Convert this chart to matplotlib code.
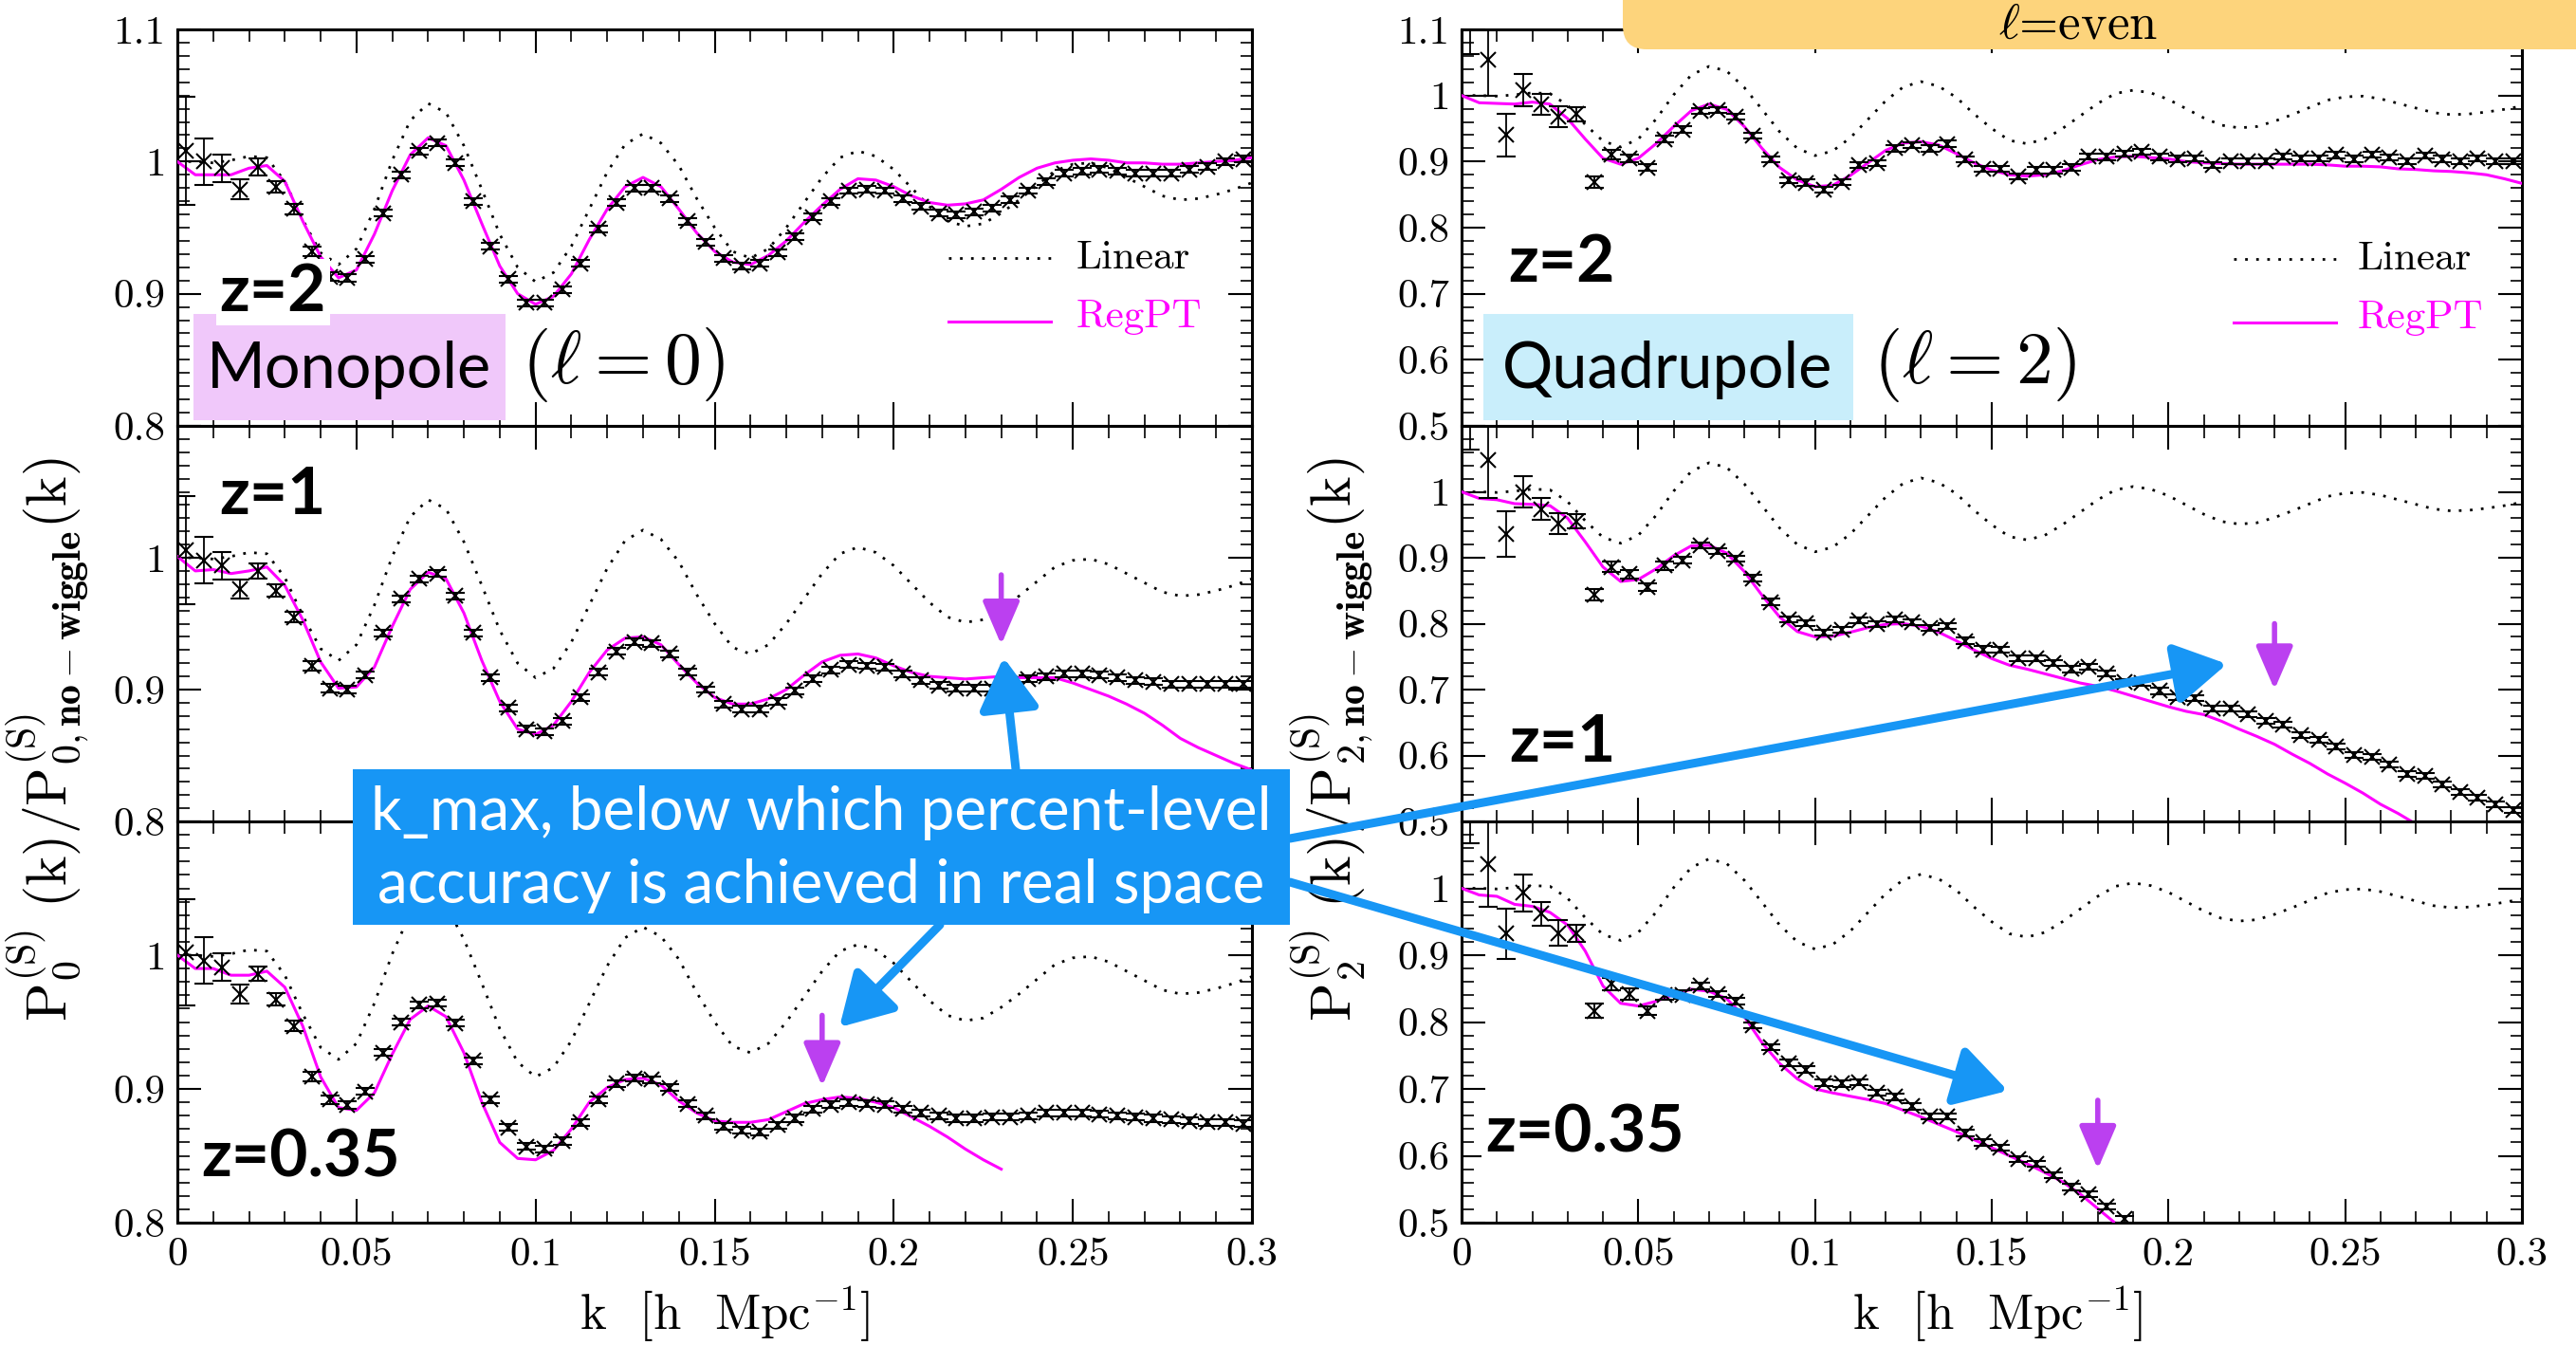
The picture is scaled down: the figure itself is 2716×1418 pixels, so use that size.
import numpy as np
import matplotlib.pyplot as plt
from matplotlib.patches import Rectangle, FancyBboxPatch, FancyArrowPatch
from matplotlib.ticker import MultipleLocator

plt.rcParams['mathtext.fontset'] = 'cm'
plt.rcParams['axes.formatter.use_mathtext'] = True

# theory curves are read every 0.005 in k, simulation bins are 0.005 wide
k_curve = np.linspace(0.0, 0.3, 61)
k_data = np.linspace(0.0025, 0.2975, 60)

# linear theory (same for every panel)
linear = [1.000, 1.000, 0.999, 1.001, 1.004, 1.003, 0.985, 0.956, 0.931, 0.922,
          0.934, 0.964, 1.001, 1.031, 1.044, 1.037, 1.012, 0.979, 0.945, 0.920,
          0.909, 0.916, 0.936, 0.964, 0.992, 1.013, 1.021, 1.014, 0.997, 0.972,
          0.950, 0.932, 0.927, 0.934, 0.950, 0.969, 0.988, 1.003, 1.008, 1.004,
          0.994, 0.980, 0.966, 0.955, 0.951, 0.953, 0.961, 0.971, 0.982, 0.993,
          0.998, 0.999, 0.995, 0.988, 0.981, 0.974, 0.971, 0.972, 0.975, 0.979,
          0.984]

# RegPT predictions
regpt_mono_z2 = [1.000, 0.990, 0.990, 0.990, 0.995, 0.997, 0.985, 0.955, 0.928, 0.912,
                 0.918, 0.945, 0.978, 1.005, 1.018, 1.012, 0.986, 0.953, 0.921, 0.900,
                 0.892, 0.898, 0.915, 0.941, 0.964, 0.981, 0.988, 0.981, 0.964, 0.946,
                 0.932, 0.924, 0.922, 0.929, 0.940, 0.954, 0.967, 0.979, 0.987, 0.986,
                 0.981, 0.974, 0.969, 0.967, 0.968, 0.971, 0.979, 0.988, 0.995, 0.999,
                 1.001, 1.002, 1.001, 0.999, 0.999, 0.998, 0.998, 0.999, 1.000, 1.001,
                 1.003]
regpt_mono_z1 = [1.001, 0.990, 0.991, 0.988, 0.990, 0.993, 0.979, 0.953, 0.921, 0.901,
                 0.902, 0.917, 0.948, 0.976, 0.989, 0.984, 0.958, 0.922, 0.891, 0.870,
                 0.866, 0.873, 0.891, 0.913, 0.930, 0.939, 0.940, 0.934, 0.919, 0.905,
                 0.894, 0.889, 0.889, 0.893, 0.900, 0.911, 0.921, 0.926, 0.927, 0.924,
                 0.918, 0.913, 0.910, 0.909, 0.908, 0.909, 0.910, 0.909, 0.909, 0.909,
                 0.905, 0.900, 0.895, 0.889, 0.882, 0.873, 0.863, 0.856, 0.850, 0.844,
                 0.839]
regpt_mono_z035 = [1.000, 0.990, 0.990, 0.985, 0.985, 0.988, 0.976, 0.947, 0.909, 0.886,
                   0.884, 0.897, 0.926, 0.952, 0.962, 0.954, 0.927, 0.890, 0.860, 0.848,
                   0.847, 0.854, 0.870, 0.890, 0.901, 0.907, 0.908, 0.903, 0.891, 0.882,
                   0.876, 0.875, 0.875, 0.877, 0.883, 0.889, 0.892, 0.894, 0.893, 0.890,
                   0.886, 0.879, 0.872, 0.864, 0.855, 0.847, 0.840]
regpt_quad_z2 = [1.000, 0.989, 0.988, 0.987, 0.990, 0.987, 0.965, 0.934, 0.905, 0.896,
                 0.905, 0.927, 0.953, 0.977, 0.987, 0.979, 0.953, 0.920, 0.891, 0.872,
                 0.862, 0.864, 0.879, 0.898, 0.917, 0.928, 0.930, 0.925, 0.912, 0.898,
                 0.887, 0.880, 0.878, 0.880, 0.886, 0.895, 0.903, 0.907, 0.908, 0.906,
                 0.904, 0.900, 0.898, 0.897, 0.896, 0.896, 0.896, 0.896, 0.896, 0.895,
                 0.893, 0.893, 0.892, 0.889, 0.888, 0.886, 0.885, 0.883, 0.880, 0.874,
                 0.867]
regpt_quad_z1 = [1.000, 0.990, 0.988, 0.982, 0.981, 0.979, 0.960, 0.924, 0.886, 0.864,
                 0.867, 0.883, 0.903, 0.918, 0.919, 0.907, 0.879, 0.843, 0.810, 0.788,
                 0.780, 0.781, 0.787, 0.794, 0.799, 0.800, 0.796, 0.787, 0.774, 0.760,
                 0.747, 0.737, 0.731, 0.724, 0.717, 0.710, 0.705, 0.698, 0.690, 0.682,
                 0.674, 0.667, 0.662, 0.652, 0.640, 0.629, 0.617, 0.602, 0.588, 0.572,
                 0.558, 0.543, 0.526, 0.512, 0.496]
regpt_quad_z035 = [1.000, 0.990, 0.988, 0.976, 0.973, 0.964, 0.945, 0.906, 0.854, 0.828,
                   0.824, 0.831, 0.841, 0.849, 0.846, 0.835, 0.808, 0.769, 0.738, 0.715,
                   0.700, 0.694, 0.689, 0.684, 0.678, 0.668, 0.658, 0.647, 0.636, 0.624,
                   0.612, 0.600, 0.588, 0.575, 0.561, 0.543, 0.521, 0.499]

# N-body measurements
data_mono_z2 = [1.008, 1.000, 0.995, 0.979, 0.996, 0.981, 0.964, 0.932, 0.913, 0.912,
                0.926, 0.961, 0.990, 1.008, 1.014, 0.999, 0.970, 0.936, 0.911, 0.893,
                0.893, 0.903, 0.923, 0.949, 0.969, 0.980, 0.980, 0.972, 0.955, 0.939,
                0.927, 0.921, 0.923, 0.931, 0.943, 0.958, 0.970, 0.978, 0.979, 0.978,
                0.972, 0.966, 0.961, 0.960, 0.962, 0.965, 0.971, 0.978, 0.985, 0.991,
                0.993, 0.994, 0.993, 0.991, 0.991, 0.991, 0.994, 0.996, 1.000, 1.002]
data_mono_z1 = [1.006, 0.998, 0.994, 0.976, 0.990, 0.975, 0.955, 0.918, 0.901, 0.900,
                0.911, 0.943, 0.969, 0.984, 0.988, 0.971, 0.943, 0.909, 0.886, 0.870,
                0.868, 0.876, 0.894, 0.913, 0.929, 0.936, 0.935, 0.927, 0.913, 0.900,
                0.889, 0.885, 0.885, 0.891, 0.899, 0.908, 0.915, 0.919, 0.918, 0.917,
                0.912, 0.907, 0.903, 0.901, 0.901, 0.901, 0.904, 0.908, 0.910, 0.912,
                0.912, 0.911, 0.909, 0.907, 0.906, 0.904, 0.904, 0.904, 0.904, 0.904]
data_mono_z035 = [1.002, 0.996, 0.991, 0.971, 0.986, 0.967, 0.947, 0.909, 0.892, 0.888,
                  0.898, 0.927, 0.950, 0.963, 0.964, 0.949, 0.921, 0.892, 0.871, 0.857,
                  0.855, 0.861, 0.875, 0.892, 0.904, 0.908, 0.907, 0.901, 0.889, 0.880,
                  0.872, 0.869, 0.868, 0.873, 0.878, 0.885, 0.888, 0.890, 0.889, 0.888,
                  0.885, 0.882, 0.880, 0.878, 0.878, 0.879, 0.879, 0.880, 0.882, 0.882,
                  0.882, 0.881, 0.880, 0.879, 0.878, 0.877, 0.876, 0.875, 0.875, 0.874]
data_quad_z2 = [1.160, 1.054, 0.940, 1.008, 0.987, 0.968, 0.972, 0.869, 0.911, 0.905,
                0.891, 0.934, 0.948, 0.977, 0.978, 0.968, 0.939, 0.903, 0.872, 0.868,
                0.857, 0.869, 0.895, 0.898, 0.920, 0.925, 0.920, 0.927, 0.903, 0.889,
                0.889, 0.877, 0.887, 0.887, 0.891, 0.908, 0.907, 0.912, 0.915, 0.907,
                0.904, 0.905, 0.895, 0.901, 0.901, 0.900, 0.908, 0.905, 0.905, 0.910,
                0.904, 0.911, 0.906, 0.900, 0.909, 0.904, 0.900, 0.905, 0.900, 0.900]
data_quad_z1 = [1.150, 1.048, 0.936, 1.000, 0.974, 0.952, 0.955, 0.844, 0.886, 0.875,
                0.855, 0.888, 0.896, 0.919, 0.910, 0.899, 0.869, 0.833, 0.807, 0.801,
                0.786, 0.791, 0.805, 0.799, 0.807, 0.802, 0.793, 0.796, 0.774, 0.761,
                0.760, 0.748, 0.748, 0.740, 0.731, 0.734, 0.724, 0.712, 0.710, 0.698,
                0.688, 0.687, 0.671, 0.671, 0.663, 0.652, 0.647, 0.631, 0.624, 0.614,
                0.601, 0.598, 0.586, 0.572, 0.569, 0.556, 0.545, 0.536, 0.526, 0.517]
data_quad_z035 = [1.150, 1.036, 0.932, 0.993, 0.962, 0.933, 0.933, 0.817, 0.857, 0.842,
                  0.817, 0.841, 0.841, 0.854, 0.842, 0.831, 0.795, 0.762, 0.739, 0.729,
                  0.709, 0.708, 0.710, 0.694, 0.688, 0.674, 0.659, 0.659, 0.634, 0.620,
                  0.612, 0.595, 0.588, 0.571, 0.553, 0.543, 0.524, 0.505]

# error bars: large at low k, roughly constant afterwards
err_mono_z2 = [0.041, 0.0176, 0.0104, 0.0074, 0.0066, 0.0045, 0.004, 0.0035, 0.003, 0.003] + [0.0025] * 50
err_mono_z1 = [0.041, 0.0176, 0.0104, 0.0072, 0.006, 0.0045, 0.004, 0.0035, 0.003, 0.003] + [0.0025] * 50
err_mono_z035 = [0.0395, 0.0175, 0.0104, 0.007, 0.0055, 0.0045, 0.004, 0.0035, 0.003, 0.003] + [0.0025] * 50
err_quad_z2 = [0.098, 0.055, 0.032, 0.024, 0.016, 0.0155, 0.011, 0.008, 0.007, 0.006,
               0.005, 0.005, 0.005, 0.0045] + [0.0045] * 46
err_quad_z1 = [0.086, 0.058, 0.034, 0.024, 0.016, 0.016, 0.011, 0.009, 0.008, 0.007,
               0.006, 0.006, 0.005, 0.0045] + [0.0045] * 46
err_quad_z035 = [0.083, 0.064, 0.038, 0.028, 0.018, 0.019, 0.013, 0.010, 0.009, 0.008,
                 0.007, 0.007, 0.006, 0.005] + [0.0045] * 24

# k_max marks (purple arrows)
kmax_z1 = 0.23
kmax_z035 = 0.18

W, H = 2716, 1418
fig = plt.figure(figsize=(W / 100, H / 100), dpi=100)

MAGENTA = '#ff00ff'
BLUE = '#1796f5'
PURPLE = '#bb40f0'
TICKFONT = dict(fontfamily='cmr10', fontsize=31)


def px_axes(x, y, w, h):
    return fig.add_axes([x / W, 1 - (y + h) / H, w / W, h / H])


def fpx(x, y):
    return (x / W, 1 - y / H)


cols = [(187, 1133), (1541, 1118)]
rows = [(31, 418), (449, 417), (866, 423)]

panels = [
    (0, 0, data_mono_z2, err_mono_z2, regpt_mono_z2, 'z=2', (0.089, 0.337)),
    (0, 1, data_mono_z1, err_mono_z1, regpt_mono_z1, 'z=1', (0.089, 0.823)),
    (0, 2, data_mono_z035, err_mono_z035, regpt_mono_z035, 'z=0.35', (0.115, 0.161)),
    (1, 0, data_quad_z2, err_quad_z2, regpt_quad_z2, 'z=2', (0.094, 0.411)),
    (1, 1, data_quad_z1, err_quad_z1, regpt_quad_z1, 'z=1', (0.095, 0.199)),
    (1, 2, data_quad_z035, err_quad_z035, regpt_quad_z035, 'z=0.35', (0.116, 0.222)),
]

axes = {}
for c, r, data, err, regpt, zlab, zpos in panels:
    ax = px_axes(cols[c][0], rows[r][0], cols[c][1], rows[r][1])
    axes[(c, r)] = ax

    ax.plot(k_curve, linear, color='k', ls=(0, (1, 3.2)), lw=2.0, zorder=2)
    ax.plot(k_curve[:len(regpt)], regpt, color=MAGENTA, lw=2.2, zorder=3)
    ax.errorbar(k_data[:len(data)], data, yerr=err[:len(data)], fmt='x', color='k',
                ms=11, mew=1.5, elinewidth=1.3, capsize=7, capthick=1.4, zorder=4)

    ax.set_xlim(0, 0.3)
    if c == 0:
        ax.set_ylim(0.8, 1.1)
        yt = [0.8, 0.9, 1.0, 1.1]
        ax.yaxis.set_minor_locator(MultipleLocator(0.01))
    else:
        ax.set_ylim(0.5, 1.1)
        yt = [0.5, 0.6, 0.7, 0.8, 0.9, 1.0, 1.1]
        ax.yaxis.set_minor_locator(MultipleLocator(0.02))
    ylabels = ['%g' % v for v in yt]
    if r > 0:
        ylabels[-1] = ''
    ax.set_yticks(yt)
    ax.set_yticklabels(ylabels, **TICKFONT)

    xt = [0, 0.05, 0.1, 0.15, 0.2, 0.25, 0.3]
    ax.set_xticks(xt)
    ax.xaxis.set_minor_locator(MultipleLocator(0.01))
    if r == 2:
        ax.set_xticklabels(['%g' % v for v in xt], **TICKFONT)
    else:
        ax.set_xticklabels([])

    ax.tick_params(which='both', direction='in', top=True, right=True)
    ax.tick_params(which='major', length=18, width=1.5)
    ax.tick_params(which='minor', length=9, width=1.2)
    ax.tick_params(axis='y', pad=9)
    ax.tick_params(axis='x', pad=11)
    for s in ax.spines.values():
        s.set_linewidth(2.2)

    ax.text(zpos[0], zpos[1], zlab, transform=ax.transAxes, fontfamily='Lato',
            fontweight='bold', fontsize=50, ha='center', va='center', zorder=6,
            bbox=dict(boxstyle='square,pad=0.05', fc='white', ec='none'))

# legends in the top row
for c, (x0, x1, xt_, y1, y2) in enumerate([(0.718, 0.813, 0.836, 0.423, 0.263),
                                            (0.728, 0.825, 0.845, 0.421, 0.260)]):
    ax = axes[(c, 0)]
    ax.plot([x0, x1], [y1, y1], transform=ax.transAxes, color='k', ls=(0, (1, 3.2)), lw=2.0)
    ax.plot([x0, x1], [y2, y2], transform=ax.transAxes, color=MAGENTA, lw=2.2)
    ax.text(xt_, y1, 'Linear', transform=ax.transAxes, fontfamily='cmr10', fontsize=31,
            va='center', ha='left')
    ax.text(xt_, y2 + 0.012, 'RegPT', transform=ax.transAxes, fontfamily='cmr10', fontsize=31,
            va='center', ha='left', color=MAGENTA)

# multipole labels
ax = axes[(0, 0)]
ax.add_patch(Rectangle((0.015, 0.014), 0.290, 0.268, transform=ax.transAxes,
                       fc='#f0c8fa', ec='none', zorder=5))
ax.text(0.160, 0.141, 'Monopole', transform=ax.transAxes, fontfamily='Lato', fontsize=48,
        ha='center', va='center', zorder=6)
ax.text(0.415, 0.155, r'$(\ell = 0)$', transform=ax.transAxes, fontsize=56,
        ha='center', va='center', zorder=6)

ax = axes[(1, 0)]
ax.add_patch(Rectangle((0.021, 0.014), 0.348, 0.268, transform=ax.transAxes,
                       fc='#c9eefb', ec='none', zorder=5))
ax.text(0.194, 0.141, 'Quadrupole', transform=ax.transAxes, fontfamily='Lato', fontsize=48,
        ha='center', va='center', zorder=6)
ax.text(0.484, 0.155, r'$(\ell = 2)$', transform=ax.transAxes, fontsize=56,
        ha='center', va='center', zorder=6)

# purple k_max arrows
purple = [((0, 1), kmax_z1, 0.987, 0.934), ((0, 2), kmax_z035, 0.955, 0.902),
          ((1, 1), kmax_z1, 0.800, 0.700), ((1, 2), kmax_z035, 0.683, 0.580)]
for key, km, y0, y1 in purple:
    axes[key].annotate('', xy=(km, y1), xytext=(km, y0), zorder=7,
                       arrowprops=dict(arrowstyle='-|>,head_length=0.7,head_width=0.3',
                                       color=PURPLE, lw=4, mutation_scale=40,
                                       shrinkA=0, shrinkB=0))

# axis labels
ylab0 = r'$\mathrm{P}^{(\mathrm{S})}_{0}\ (\mathrm{k})/\mathrm{P}^{(\mathrm{S})}_{0,\mathbf{no-wiggle}}(\mathrm{k})$'
ylab2 = r'$\mathrm{P}^{(\mathrm{S})}_{2}\ (\mathrm{k})/\mathrm{P}^{(\mathrm{S})}_{2,\mathbf{no-wiggle}}(\mathrm{k})$'
fig.text(*fpx(50, 780), ylab0, rotation=90, ha='center', va='center', fontsize=43)
fig.text(*fpx(1404, 780), ylab2, rotation=90, ha='center', va='center', fontsize=43)
fig.text(*fpx(764, 1386), r'k  [h  Mpc$^{-1}$]', ha='center', va='center',
         fontfamily='cmr10', fontsize=38)
fig.text(*fpx(2106, 1386), r'k  [h  Mpc$^{-1}$]', ha='center', va='center',
         fontfamily='cmr10', fontsize=38)

# "l = even" tab at the top right
tab = FancyBboxPatch((17.11, 13.66), 11.0, 1.5, boxstyle='round,pad=0,rounding_size=0.25',
                     transform=fig.dpi_scale_trans, fc='#fdd47c', ec='none', zorder=15)
fig.add_artist(tab)
fig.text(*fpx(2191, 27), r'$\ell$=even', ha='center', va='center', fontfamily='cmr10',
         fontsize=38, zorder=16)

# blue call-out box and arrows
box = Rectangle(fpx(372, 975), (1360 - 372) / W, (975 - 811) / H, transform=fig.transFigure,
                fc=BLUE, ec='none', zorder=20)
fig.add_artist(box)
fig.text(*fpx(866, 857), 'k_max, below which percent-level', ha='center', va='center',
         color='white', fontfamily='Lato', fontsize=46, zorder=21)
fig.text(*fpx(866, 934), 'accuracy is achieved in real space', ha='center', va='center',
         color='white', fontfamily='Lato', fontsize=46, zorder=21)

blue_arrows = [((1071, 811), (1058, 693)), ((1360, 884), (2348, 700)),
               ((1360, 930), (2117, 1150)), ((991, 975), (885, 1083))]
for a, b in blue_arrows:
    arr = FancyArrowPatch(fpx(*a), fpx(*b), transform=fig.transFigure,
                          arrowstyle='-|>,head_length=0.6,head_width=0.35',
                          mutation_scale=55, lw=6.5, color=BLUE, shrinkA=0, shrinkB=0,
                          zorder=19)
    fig.add_artist(arr)

plt.savefig('out.png', dpi=100)
